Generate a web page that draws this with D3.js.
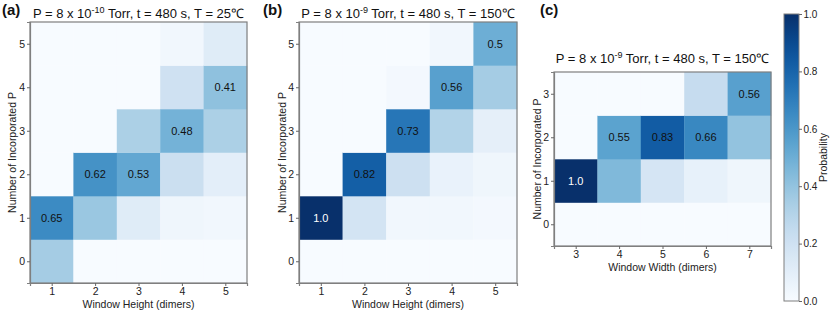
<!DOCTYPE html>
<html><head><meta charset="utf-8">
<script src="https://cdn.jsdelivr.net/npm/d3@7"></script>
<style>body{margin:0;background:#fff}svg{font-family:Arial,"Liberation Sans",sans-serif}</style>
</head><body><svg id="c" width="830" height="310"></svg>
<script>
// ---- data ----
const panelA_x = [1,2,3,4,5];
const panelA_y = [0,1,2,3,4,5];
// probabilities per column (x), indexed by y
const panelA_values = [
  [0.35,0.65,0,0,0,0],
  [0,0.38,0.62,0,0,0],
  [0,0.12,0.53,0.33,0,0],
  [0,0.04,0.22,0.48,0.20,0.03],
  [0,0.03,0.10,0.33,0.41,0.12]
];
const panelA_labels = [[1,1,"0.65"],[2,2,"0.62"],[3,2,"0.53"],[4,3,"0.48"],[5,4,"0.41"]];

const panelB_x = [1,2,3,4,5];
const panelB_y = [0,1,2,3,4,5];
const panelB_values = [
  [0,1.0,0,0,0,0],
  [0,0.18,0.82,0,0,0],
  [0,0.03,0.21,0.73,0.02,0],
  [0,0.03,0.07,0.31,0.56,0.03],
  [0,0.02,0.04,0.09,0.35,0.50]
];
const panelB_labels = [[1,1,"1.0"],[2,2,"0.82"],[3,3,"0.73"],[4,4,"0.56"],[5,5,"0.5"]];

const panelC_x = [3,4,5,6,7];
const panelC_y = [0,1,2,3];
const panelC_values = [
  [0,1.0,0,0],
  [0,0.45,0.55,0],
  [0,0.17,0.83,0],
  [0,0.08,0.66,0.24],
  [0,0.04,0.40,0.56]
];
const panelC_labels = [[3,1,"1.0"],[4,2,"0.55"],[5,2,"0.83"],[6,2,"0.66"],[7,3,"0.56"]];

const colorbarTicks = [0,0.2,0.4,0.6,0.8,1.0];

// ---- drawing ----
const svg = d3.select("#c");
const color = d3.scaleSequential(d3.interpolateBlues).domain([0,1]);
const frameCol = "#7f7f7f";
const FF = "Arial,'Liberation Sans',sans-serif";

function panel(o){
  const g = svg.append("g");
  const x = d3.scaleLinear().domain([o.xs[0]-0.5, o.xs[o.xs.length-1]+0.5]).range([o.left,o.right]);
  const y = d3.scaleLinear().domain([o.ys[0]-0.5, o.ys[o.ys.length-1]+0.5]).range([o.bottom,o.top]);
  const cells = [];
  o.values.forEach((col,i)=>col.forEach((v,j)=>cells.push({x:o.xs[i],y:o.ys[j],v})));
  g.selectAll("rect.cell").data(cells).join("rect")
    .attr("x",d=>x(d.x-0.5)).attr("y",d=>y(d.y+0.5))
    .attr("width",d=>x(d.x+0.5)-x(d.x-0.5)+0.3).attr("height",d=>y(d.y-0.5)-y(d.y+0.5)+0.3)
    .attr("fill",d=>color(d.v));
  g.selectAll("text.lab").data(o.labels).join("text")
    .attr("x",d=>x(d[0])).attr("y",d=>y(d[1])+4)
    .attr("text-anchor","middle").attr("font-size",11)
    .attr("fill",d=>+d[2]>0.9?"#fff":"#111").text(d=>d[2]);
  g.append("rect").attr("x",o.left).attr("y",o.top).attr("width",o.right-o.left).attr("height",o.bottom-o.top)
    .attr("fill","none").attr("stroke",frameCol).attr("stroke-width",1.2);
  const xa = g.append("g").attr("transform",`translate(0,${o.bottom})`)
    .call(d3.axisBottom(x).tickValues(o.xs).tickFormat(d3.format("d")).tickSize(3).tickPadding(2));
  const ya = g.append("g").attr("transform",`translate(${o.left},0)`)
    .call(d3.axisLeft(y).tickValues(o.ys).tickFormat(d3.format("d")).tickSize(3).tickPadding(2));
  [xa,ya].forEach(a=>{
    a.select(".domain").attr("stroke",frameCol).attr("stroke-width",1.2);
    a.selectAll(".tick line").attr("stroke","#666");
    a.selectAll(".tick text").attr("font-size",10.5).attr("fill","#222").attr("font-family",FF);
  });
  g.append("text").attr("x",(o.left+o.right)/2).attr("y",o.bottom+24.5).attr("text-anchor","middle")
    .attr("font-size",10.5).attr("fill","#222").text(o.xlabel);
  g.append("text").attr("transform",`translate(${o.ylabelX},${(o.top+o.bottom)/2}) rotate(-90)`)
    .attr("text-anchor","middle").attr("font-size",10.5).attr("fill","#222").text("Number of Incorporated P");
  const t = g.append("text").attr("x",(o.left+o.right)/2).attr("y",o.titleY).attr("text-anchor","middle")
    .attr("font-size",13).attr("fill","#111");
  t.append("tspan").text("P = 8 x 10");
  t.append("tspan").attr("dy",-5).attr("font-size",9).text(o.exp);
  t.append("tspan").attr("dy",5).text(o.titleRest);
  svg.append("text").attr("x",o.tagX).attr("y",15).attr("font-size",15).attr("font-weight","bold")
    .attr("fill","#111").text(o.tag);
}

panel({xs:panelA_x,ys:panelA_y,values:panelA_values,labels:panelA_labels,left:30,right:247,top:22,bottom:283,titleY:17.5,
  xlabel:"Window Height (dimers)",ylabelX:16,exp:"-10",titleRest:" Torr, t = 480 s, T = 25℃",tag:"(a)",tagX:2});
panel({xs:panelB_x,ys:panelB_y,values:panelB_values,labels:panelB_labels,left:299,right:517,top:22,bottom:283,titleY:17.5,
  xlabel:"Window Height (dimers)",ylabelX:285.5,exp:"-9",titleRest:" Torr, t = 480 s, T = 150℃",tag:"(b)",tagX:263});
panel({xs:panelC_x,ys:panelC_y,values:panelC_values,labels:panelC_labels,left:554,right:771,top:72,bottom:246,titleY:63,
  xlabel:"Window Width (dimers)",ylabelX:540.5,exp:"-9",titleRest:" Torr, t = 480 s, T = 150℃",tag:"(c)",tagX:540});

// colorbar
const cbTop=14, cbBot=301, cbL=784, cbW=15;
const defs = svg.append("defs");
const grad = defs.append("linearGradient").attr("id","cbg").attr("x1",0).attr("y1",1).attr("x2",0).attr("y2",0);
d3.range(0,1.0001,0.05).forEach(s=>grad.append("stop").attr("offset",s).attr("stop-color",color(s)));
svg.append("rect").attr("x",cbL).attr("y",cbTop).attr("width",cbW).attr("height",cbBot-cbTop)
  .attr("fill","url(#cbg)").attr("stroke",frameCol).attr("stroke-width",1);
const cy = d3.scaleLinear().domain([0,1]).range([cbBot,cbTop]);
const cba = svg.append("g").attr("transform",`translate(${cbL+cbW},0)`)
  .call(d3.axisRight(cy).tickValues(colorbarTicks).tickFormat(d3.format(".1f")).tickSize(3).tickPadding(1.5));
cba.select(".domain").remove();
cba.selectAll(".tick line").attr("stroke","#666");
cba.selectAll(".tick text").attr("font-size",10).attr("fill","#222").attr("font-family",FF);
svg.append("text").attr("transform",`translate(826.5,${(cbTop+cbBot)/2}) rotate(-90)`)
  .attr("text-anchor","middle").attr("font-size",10.5).attr("fill","#222").text("Probability");
</script></body></html>
